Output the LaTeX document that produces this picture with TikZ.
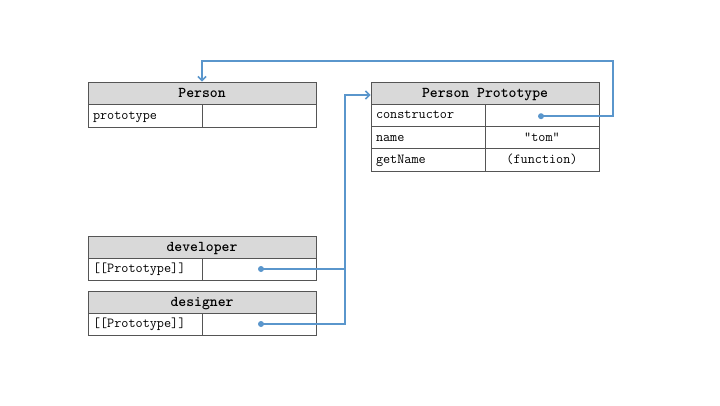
\documentclass[tikz,border=0pt]{standalone}
\usepackage{fontspec}
\usetikzlibrary{arrows.meta,calc}
\definecolor{bordc}{HTML}{555555}
\definecolor{hdrc}{HTML}{D9D9D9}
\definecolor{linkc}{HTML}{5A96CC}
\begin{document}
\begin{tikzpicture}[x=1pt,y=-1pt,
  hdr/.style={draw=bordc,line width=0.8pt,fill=hdrc,minimum width=#1,minimum height=22pt,inner sep=0pt,text height=2ex,text depth=0pt,font=\ttfamily\bfseries\fontsize{15}{16}\selectfont},
  cellL/.style={draw=bordc,line width=0.8pt,minimum height=#1,text width=104pt,inner xsep=5pt,inner ysep=0pt,text height=1.7ex,text depth=0pt,align=left,font=\ttfamily\fontsize{13.8}{15}\selectfont},
  cellR/.style={draw=bordc,line width=0.8pt,minimum height=#1,text width=104pt,inner xsep=5pt,inner ysep=0pt,text height=1.7ex,text depth=0pt,align=center,font=\ttfamily\fontsize{13.8}{15}\selectfont},
  conn/.style={draw=linkc,line width=1.6pt},
  dotc/.style={fill=linkc,circle,inner sep=0pt,minimum size=6pt}]
\useasboundingbox (0,0) rectangle (720,405);
\fill[white] (0,0) rectangle (720,405);
% Person
\node[hdr=228pt] (phdr) at (202,93) {Person};
\node[cellL=23pt] (pl1) at (145,115.5) {prototype};
\node[cellR=23pt] (pr1) at (259,115.5) {};
% Person Prototype
\node[hdr=228pt] (qhdr) at (485,93) {Person Prototype};
\node[cellL=22.4pt] (ql1) at (428,115.2) {constructor};
\node[cellR=22.4pt] (qr1) at (542,115.2) {};
\node[cellL=22.4pt] (ql2) at (428,137.6) {name};
\node[cellR=22.4pt] (qr2) at (542,137.6) {”tom”};
\node[cellL=22.4pt] (ql3) at (428,160) {getName};
\node[cellR=22.4pt] (qr3) at (542,160) {(function)};
% developer
\node[hdr=228pt] (vhdr) at (202,247) {developer};
\node[cellL=22pt] (vl1) at (145,269) {[[Prototype]]};
\node[cellR=22pt] (vr1) at (259,269) {};
% designer
\node[hdr=228pt] (shdr) at (202,302) {designer};
\node[cellL=22pt] (sl1) at (145,324) {[[Prototype]]};
\node[cellR=22pt] (sr1) at (259,324) {};
% connector points
\coordinate (cdot) at ($(qr1.center)+(-1,1)$);
\coordinate (vdot) at ($(vr1.center)+(2,0)$);
\coordinate (sdot) at ($(sr1.center)+(2,0)$);
\coordinate (corner) at (613,61);
\coordinate (jx) at (345,95);
\coordinate (qin) at ($(qhdr.west)+(0,2)$);
\draw[conn,-{Straight Barb[length=4pt,width=8pt]}] (cdot) -| (corner) -| (phdr.north);
\draw[conn] (vdot) -- (vdot -| jx);
\draw[conn,-{Straight Barb[length=4pt,width=8pt]}] (sdot) -| (jx) -- (qin);
\node[dotc] (cd) at (cdot) {};
\node[dotc] (vd) at (vdot) {};
\node[dotc] (sd) at (sdot) {};
\end{tikzpicture}
\end{document}
